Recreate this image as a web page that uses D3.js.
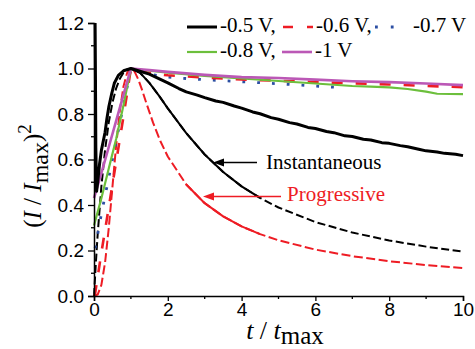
<!DOCTYPE html>
<html><head><meta charset="utf-8">
<script src="https://cdn.jsdelivr.net/npm/d3@7"></script>
<style>
html,body{margin:0;padding:0;background:#fff;}
svg{display:block;}
</style></head>
<body><svg id="c" width="475" height="349"></svg>
<script>
// ---- data ----
const xTicks = [0, 2, 4, 6, 8, 10];
const yTicks = [0.0, 0.2, 0.4, 0.6, 0.8, 1.0, 1.2];
const seriesNames = ["-0.5 V,", "-0.6 V,", "-0.7 V", "-0.8 V,", "-1 V"];

const t05 = [0.03,0.04,0.05,0.07,0.1,0.15,0.2,0.25,0.3,0.35,0.4,0.48,0.55,0.66,0.8,1.0,1.2,1.5,1.8,2,2.3,2.5,2.8,3,3.3,3.5,3.8,4,4.3,4.5,4.8,5,5.3,5.5,5.8,6,6.3,6.5,6.8,7,7.3,7.5,7.8,8,8.3,8.5,8.8,9,9.3,9.5,9.8,10];
const y05 = [1.2,0.95,0.65,0.46,0.5,0.58,0.64,0.68,0.72,0.78,0.83,0.89,0.935,0.97,0.99,1.0,0.99,0.975,0.952,0.937,0.912,0.897,0.883,0.872,0.857,0.851,0.835,0.826,0.809,0.801,0.784,0.777,0.762,0.756,0.741,0.736,0.723,0.718,0.704,0.701,0.689,0.686,0.674,0.671,0.661,0.656,0.645,0.638,0.633,0.627,0.623,0.617];

const t06 = [0.02,0.2,0.4,0.6,0.8,1.0,1.5,2,3,4,5,6,7,8,9,10];
const y06 = [0,0.19,0.39,0.59,0.79,1.0,0.98,0.97,0.96,0.952,0.946,0.94,0.935,0.93,0.923,0.918];

const t07 = [0.03,0.2,0.4,0.6,0.8,1.0,1.5,2,2.5,3,4,5,6,6.6];
const y07 = [0.21,0.36,0.52,0.68,0.84,1.0,0.975,0.962,0.956,0.951,0.942,0.933,0.923,0.917];

const t08 = [0,0.2,0.4,0.6,0.8,1.0,1.5,2,3,4,5,6,7,7.5,8,8.5,9,9.3,10];
const y08 = [0.31,0.43,0.56,0.69,0.84,1.0,0.99,0.982,0.968,0.956,0.945,0.934,0.923,0.92,0.917,0.91,0.898,0.889,0.887];

const t10 = [0,0.2,0.4,0.6,0.8,1.0,1.5,2,3,4,5,6,7,8,9,10];
const y10 = [0.43,0.54,0.655,0.77,0.885,1.0,0.993,0.985,0.972,0.962,0.958,0.951,0.944,0.94,0.934,0.927];

const tInst = [0,0.05,0.1,0.2,0.3,0.4,0.5,0.6,0.7,0.8,0.9,1.0,1.25,1.5,1.75,2,2.5,3,3.5,4,4.5,5,6,7,8,9,10];
const yInst = [0,0.145,0.272,0.482,0.642,0.763,0.85,0.913,0.955,0.982,0.996,1.0,0.981,0.937,0.883,0.825,0.716,0.622,0.545,0.482,0.431,0.389,0.325,0.279,0.244,0.217,0.195];

const tProg = [0,0.1,0.2,0.3,0.4,0.5,0.6,0.7,0.8,0.9,1.0,1.1,1.2,1.3,1.4,1.6,1.8,2,2.5,3,3.5,4,4.5,5,6,7,8,9,10];
const yProg = [0,0.0065,0.049,0.147,0.298,0.48,0.661,0.814,0.922,0.982,1.0,0.986,0.952,0.907,0.857,0.762,0.68,0.613,0.49,0.408,0.35,0.306,0.272,0.245,0.204,0.175,0.153,0.136,0.1225];

const instSolid = [1.0, 4.8];
const progSolid = [2.2, 4.8];

// ---- setup ----
const svg = d3.select("#c");
const x = d3.scaleLinear().domain([0, 10]).range([94, 463]);
const y = d3.scaleLinear().domain([0, 1.2]).range([296, 23]);
const zip = (ts, ys) => ts.map((t, i) => [t, ys[i]]);
const line = d3.line().x(d => x(d[0])).y(d => y(d[1]));

const RED = "#ee1c24", GREEN = "#6cbf3c", MAG = "#bb58b6", BLUE = "#2c4fa3";

svg.append("defs").append("clipPath").attr("id", "clip")
  .append("rect").attr("x", 90).attr("y", 22).attr("width", 380).attr("height", 280);
const g = svg.append("g").attr("clip-path", "url(#clip)");

function path(data, color, width, dash) {
  const p = g.append("path").attr("d", line(data)).attr("fill", "none")
    .attr("stroke", color).attr("stroke-width", width)
    .attr("stroke-linejoin", "round");
  if (dash) p.attr("stroke-dasharray", dash);
  return p;
}

// theoretical curves
const inst = zip(tInst, yInst), prog = zip(tProg, yProg);
path(prog, RED, 2, "9,3.5");
path(prog.filter(d => d[0] >= progSolid[0] && d[0] <= progSolid[1]), RED, 2, null);
path(inst, "#000", 2, "8,3.5");
path(inst.filter(d => d[0] >= instSolid[0] && d[0] <= instSolid[1]), "#000", 2, null);

// experimental curves
path(zip(t07, y07), BLUE, 2.8, "2.8,12").attr("stroke-linecap", "butt");
path(zip(t06, y06), RED, 2.6, "11,13");
path(zip(t08, y08), GREEN, 2.2, null);
path(zip(t10, y10), MAG, 2.6, null);
path(zip(t05, y05), "#000", 3, null);

// ---- axes ----
const tickFont = "'Liberation Sans', Arial, sans-serif";
const yAxis = svg.append("g").attr("transform", "translate(94,0)")
  .call(d3.axisLeft(y).tickValues(yTicks).tickFormat(d3.format(".1f")).tickSizeOuter(0).tickSize(6).tickPadding(4));
const xAxis = svg.append("g").attr("transform", "translate(0,296)")
  .call(d3.axisBottom(x).tickValues(xTicks).tickFormat(d3.format("d")).tickSizeOuter(0).tickSize(5).tickPadding(2));
[yAxis, xAxis].forEach(a => {
  a.select(".domain").attr("stroke", "#000").attr("stroke-width", 1.5);
  a.selectAll(".tick line").attr("stroke", "#000").attr("stroke-width", 1.3);
  a.selectAll("text").attr("font-family", tickFont).attr("font-size", 19).attr("fill", "#000");
});
// minor ticks
const yMinor = d3.range(0.1, 1.2, 0.2);
svg.append("g").selectAll("line").data(yMinor).join("line")
  .attr("x1", 91).attr("x2", 94).attr("y1", d => y(d)).attr("y2", d => y(d))
  .attr("stroke", "#000").attr("stroke-width", 1.3);
const xMinor = [1, 3, 5, 7, 9];
svg.append("g").selectAll("line").data(xMinor).join("line")
  .attr("x1", d => x(d)).attr("x2", d => x(d)).attr("y1", 296).attr("y2", 299)
  .attr("stroke", "#000").attr("stroke-width", 1.3);

// ---- titles ----
const serif = "'Liberation Serif', 'Times New Roman', serif";
const yt = svg.append("text").attr("transform", "translate(41,176) rotate(-90)")
  .attr("text-anchor", "middle").attr("font-family", serif).attr("font-size", 25).attr("fill", "#000");
yt.append("tspan").text("(");
yt.append("tspan").attr("font-style", "italic").text("I");
yt.append("tspan").text(" / ");
yt.append("tspan").attr("font-style", "italic").text("I");
yt.append("tspan").attr("dy", 7).attr("font-size", 24).text("max");
yt.append("tspan").attr("dy", -7).text(")");
yt.append("tspan").attr("dy", -10).attr("font-size", 19).text("2");

const xt = svg.append("text").attr("x", 285).attr("y", 339)
  .attr("text-anchor", "middle").attr("font-family", serif).attr("font-size", 26).attr("fill", "#000");
xt.append("tspan").attr("font-style", "italic").text("t");
xt.append("tspan").text(" / ");
xt.append("tspan").attr("font-style", "italic").text("t");
xt.append("tspan").attr("dy", 5).attr("font-size", 25).text("max");

// ---- legend ----
const legend = [
  {x: 187, y: 27, name: seriesNames[0], color: "#000", w: 3, dash: null},
  {x: 283, y: 27, name: seriesNames[1], color: RED, w: 2.6, dash: "10,14"},
  {x: 375, y: 27, name: seriesNames[2], color: BLUE, w: 2.8, dash: "2.8,13"},
  {x: 187, y: 52, name: seriesNames[3], color: GREEN, w: 2.2, dash: null},
  {x: 282, y: 52, name: seriesNames[4], color: MAG, w: 2.6, dash: null}
];
const lg = svg.append("g");
legend.forEach(d => {
  const l = lg.append("line").attr("x1", d.x).attr("x2", d.x + 30).attr("y1", d.y).attr("y2", d.y)
    .attr("stroke", d.color).attr("stroke-width", d.w);
  if (d.dash) l.attr("stroke-dasharray", d.dash);
  lg.append("text").attr("x", d.x + (d.x === 375 ? 38 : 33)).attr("y", d.y + 5)
    .attr("font-family", serif).attr("font-size", 21).attr("fill", "#000").text(d.name);
});

// ---- annotations ----
function arrow(x1, x2, yy, color) {
  svg.append("line").attr("x1", x1).attr("x2", x2 + 8).attr("y1", yy).attr("y2", yy)
    .attr("stroke", color).attr("stroke-width", 1.5);
  svg.append("path").attr("d", `M${x2},${yy} L${x2 + 11},${yy - 4} L${x2 + 11},${yy + 4} Z`).attr("fill", color);
}
arrow(257, 213, 162.5, "#000");
arrow(281, 203, 196.5, RED);
svg.append("text").attr("x", 266).attr("y", 169).attr("font-family", serif).attr("font-size", 21)
  .attr("fill", "#000").text("Instantaneous");
svg.append("text").attr("x", 287).attr("y", 201).attr("font-family", serif).attr("font-size", 21)
  .attr("fill", RED).text("Progressive");
</script></body></html>
